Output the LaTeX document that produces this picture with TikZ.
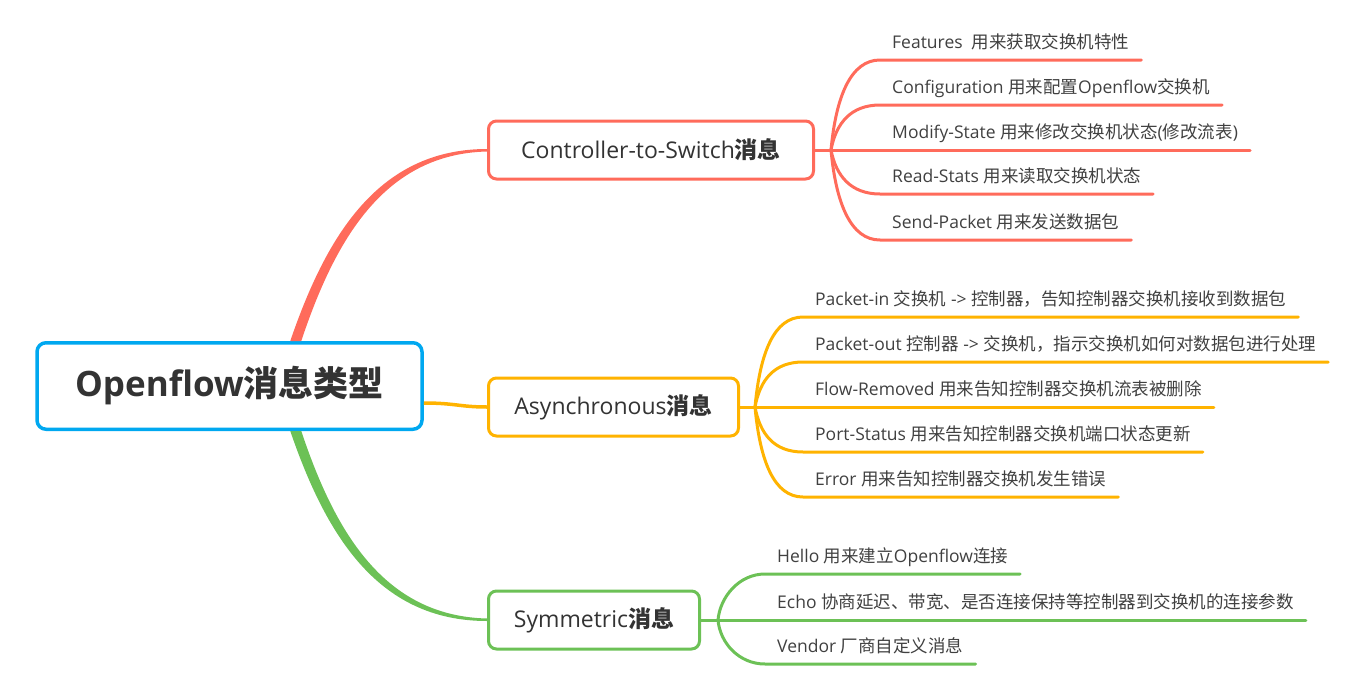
\documentclass[tikz,border=0pt]{standalone}
\usepackage{fontspec}
\setmainfont{Open Sans}
\newfontfamily\zhfont{Noto Sans CJK SC}
\newcommand{\zh}[1]{{\zhfont #1}}
\usepackage{tikz}
\definecolor{rootblue}{HTML}{00A8F0}
\definecolor{redline}{HTML}{FF6B5B}
\definecolor{yelline}{HTML}{FFB300}
\definecolor{grnline}{HTML}{6CC156}
\definecolor{txtdark}{HTML}{333333}
\definecolor{txtgray}{HTML}{404040}
\tikzset{
  topic/.style={draw, fill=white, rounded corners=8pt, line width=3pt, minimum height=58pt, text=txtdark, font=\fontsize{23pt}{27pt}\selectfont},
  item/.style={anchor=south west, inner xsep=12pt, inner ysep=6pt, text depth=5pt, text=txtgray, font=\fontsize{17.5pt}{21pt}\selectfont},
  branch/.style={line width=3pt, line cap=round},
}

\begin{document}
\begin{tikzpicture}[x=1pt, y=-1pt]
\useasboundingbox (0,0) rectangle (1351,688);

% Central topic and main topics
\node[draw=rootblue, fill=white, rounded corners=9pt, line width=3.5pt, minimum width=385pt, minimum height=86.5pt, text=txtdark, font=\bfseries\fontsize{35pt}{41pt}\selectfont] (root) at (229.5,386) {Openflow\zh{消息类型}};
\node[topic, draw=redline, minimum width=325pt] (c2s) at (651,150) {Controller-to-Switch\zh{\bfseries 消息}};
\node[topic, draw=yelline, minimum width=250pt] (async) at (613.5,407) {Asynchronous\zh{\bfseries 消息}};
\node[topic, draw=grnline, minimum width=211pt] (sym) at (594,620) {Symmetric\zh{\bfseries 消息}};

% Forks
\coordinate (fk1) at (831,150);
\coordinate (fk2) at (755,407);
\coordinate (fk3) at (718,620);

% Subtopics
\node[item] (feat) at (880,60) {Features\ \ \zh{用来获取交换机特性}};
\node[item] (conf) at (880,105) {Configuration \zh{用来配置}Openflow\zh{交换机}};
\node[item] (mods) at (880,150) {Modify-State \zh{用来修改交换机状态}(\zh{修改流表})};
\node[item] (rdst) at (880,194) {Read-Stats \zh{用来读取交换机状态}};
\node[item] (sndp) at (880,240) {Send-Packet \zh{用来发送数据包}};

\node[item] (pkin) at (803,317) {Packet-in \zh{交换机} -> \zh{控制器，告知控制器交换机接收到数据包}};
\node[item] (pkout) at (803,362) {Packet-out \zh{控制器} -> \zh{交换机，指示交换机如何对数据包进行处理}};
\node[item] (flow) at (803,407) {Flow-Removed \zh{用来告知控制器交换机流表被删除}};
\node[item] (port) at (803,452) {Port-Status \zh{用来告知控制器交换机端口状态更新}};
\node[item] (err) at (803,497) {Error \zh{用来告知控制器交换机发生错误}};

\node[item] (hello) at (765,574) {Hello \zh{用来建立}Openflow\zh{连接}};
\node[item] (echo) at (765,620) {Echo \zh{协商延迟、带宽、是否连接保持等控制器到交换机的连接参数}};
\node[item] (vend) at (765,664) {Vendor \zh{厂商自定义消息}};

% Main branches (tapered)
\fill[redline] ([xshift=255pt]root.north west) .. controls (325,240) and (376,149) .. ([yshift=1pt]c2s.west) -- ([yshift=-1.5pt]c2s.west) .. controls (384,154) and (335,240) .. ([xshift=266pt]root.north west) -- cycle;
\fill[grnline] ([xshift=255pt]root.south west) .. controls (325,532) and (376,621) .. ([yshift=-1pt]sym.west) -- ([yshift=1.5pt]sym.west) .. controls (384,616) and (335,532) .. ([xshift=266pt]root.south west) -- cycle;
\draw[yelline, line width=3.5pt] ([yshift=-17pt]root.east) .. controls (455,403) and (460,407) .. (async.west);

% Controller-to-Switch branches
\draw[branch, redline] (c2s.east) -- (mods.south east);
\draw[branch, redline] (fk1) .. controls (836,96) and (851,60) .. (feat.south west) -- (feat.south east);
\draw[branch, redline] (fk1) .. controls (836,123) and (851,105) .. (conf.south west) -- (conf.south east);
\draw[branch, redline] (fk1) .. controls (836,176) and (851,194) .. (rdst.south west) -- (rdst.south east);
\draw[branch, redline] (fk1) .. controls (836,204) and (851,240) .. (sndp.south west) -- (sndp.south east);

% Asynchronous branches
\draw[branch, yelline] (async.east) -- (flow.south east);
\draw[branch, yelline] (fk2) .. controls (760,353) and (774,317) .. (pkin.south west) -- (pkin.south east);
\draw[branch, yelline] (fk2) .. controls (760,380) and (774,362) .. (pkout.south west) -- (pkout.south east);
\draw[branch, yelline] (fk2) .. controls (760,434) and (774,452) .. (port.south west) -- (port.south east);
\draw[branch, yelline] (fk2) .. controls (760,461) and (774,497) .. (err.south west) -- (err.south east);

% Symmetric branches
\draw[branch, grnline] (sym.east) -- (echo.south east);
\draw[branch, grnline] (fk3) .. controls (720,597) and (739,574) .. (hello.south west) -- (hello.south east);
\draw[branch, grnline] (fk3) .. controls (720,643) and (739,664) .. (vend.south west) -- (vend.south east);

\end{tikzpicture}
\end{document}
